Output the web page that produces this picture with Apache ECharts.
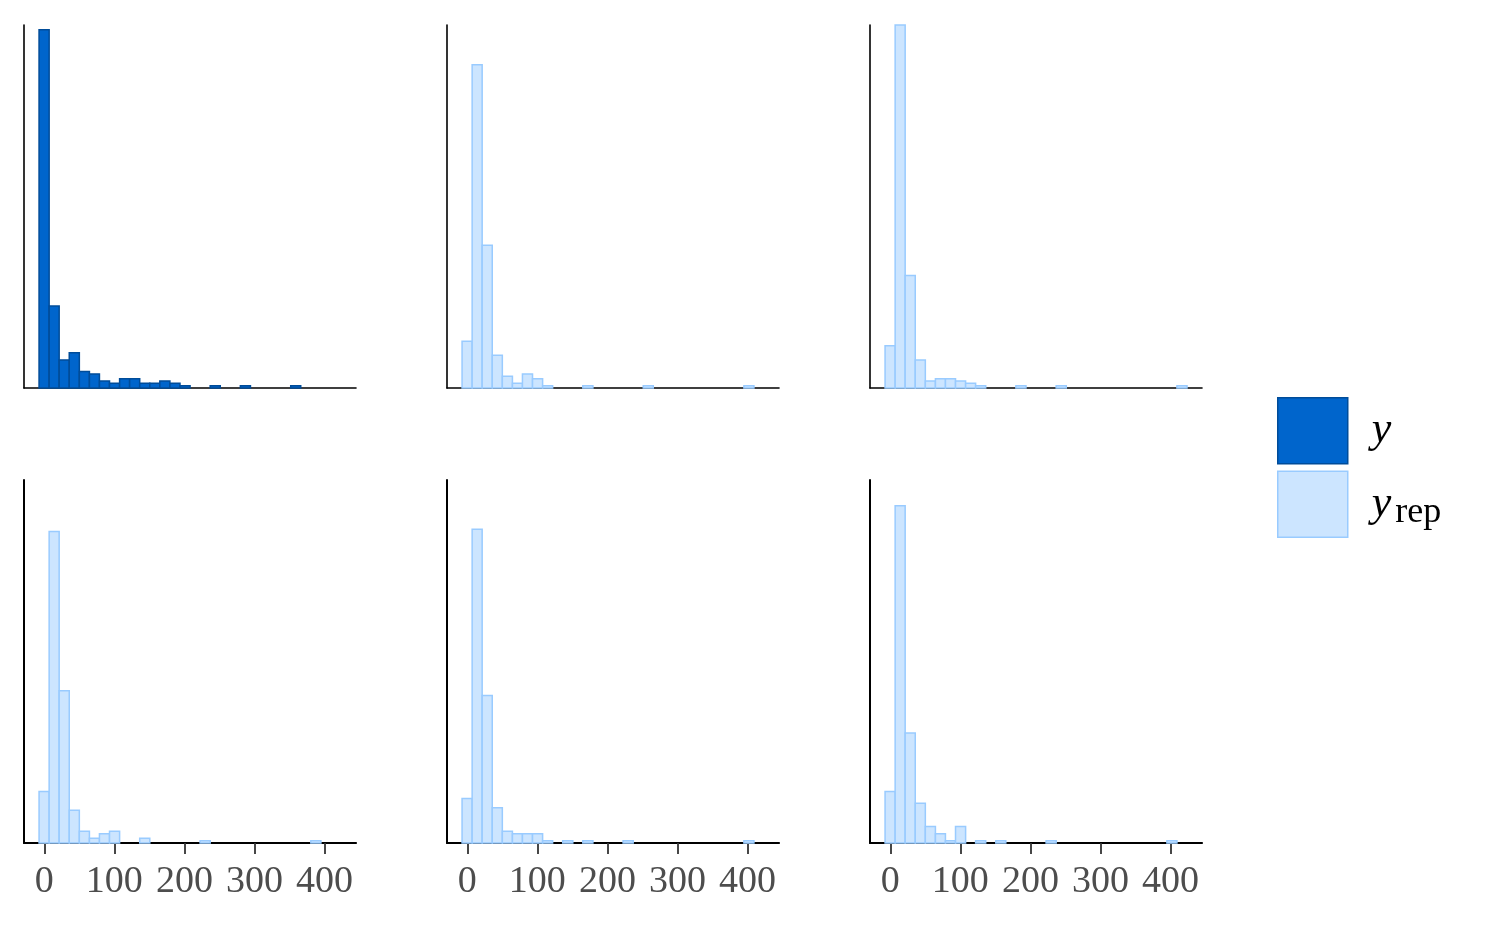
<!DOCTYPE html>
<html>
<head>
<meta charset="utf-8">
<script src="https://cdn.jsdelivr.net/npm/echarts@6/dist/echarts.min.js"></script>
<style>
  html, body { margin: 0; padding: 0; background: #fff; }
  #main { width: 1500px; height: 927px; }
</style>
</head>
<body>
<div id="main"></div>
<script>
// histogram bin edges (30 bins)
const binEdges = [-7.5, 6.9, 21.2, 35.6, 50.0, 64.4, 78.7, 93.1, 107.5, 121.8, 136.2,
  150.6, 164.9, 179.3, 193.7, 208.1, 222.4, 236.8, 251.2, 265.5, 279.9,
  294.3, 308.6, 323.0, 337.4, 351.8, 366.1, 380.5, 394.9, 409.2, 423.6];

// counts per bin: observed y, then 5 replicated draws
const countsY    = [153, 35, 12, 15, 7, 6, 3, 2, 4, 4, 2, 2, 3, 2, 1, 0, 0, 1, 0, 0, 1, 0, 0, 0, 0, 1, 0, 0, 0, 0];
const countsRep1 = [20, 138, 61, 14, 5, 2, 6, 4, 1, 0, 0, 0, 1, 0, 0, 0, 0, 0, 1, 0, 0, 0, 0, 0, 0, 0, 0, 0, 1, 0];
const countsRep2 = [18, 155, 48, 12, 3, 4, 4, 3, 2, 1, 0, 0, 0, 1, 0, 0, 0, 1, 0, 0, 0, 0, 0, 0, 0, 0, 0, 0, 0, 1];
const countsRep3 = [22, 133, 65, 14, 5, 2, 4, 5, 0, 0, 2, 0, 0, 0, 0, 0, 1, 0, 0, 0, 0, 0, 0, 0, 0, 0, 0, 1, 0, 0];
const countsRep4 = [19, 134, 63, 15, 5, 4, 4, 4, 1, 0, 1, 0, 1, 0, 0, 0, 1, 0, 0, 0, 0, 0, 0, 0, 0, 0, 0, 0, 1, 0];
const countsRep5 = [22, 144, 47, 17, 7, 4, 1, 7, 0, 1, 0, 1, 0, 0, 0, 0, 1, 0, 0, 0, 0, 0, 0, 0, 0, 0, 0, 0, 1, 0];

const xTicks = [0, 100, 200, 300, 400];
const xMin = -29, xMax = 445;
const yMax = 155;

const panels = [countsY, countsRep1, countsRep2, countsRep3, countsRep4, countsRep5];

const colY   = { fill: '#0065cc', stroke: '#004c99' };
const colRep = { fill: '#cce5ff', stroke: '#99cbff' };

const FONT = '"Liberation Serif", "DejaVu Serif", serif';

let myChart = echarts.init(document.getElementById('main'));

const colLeft = [24, 447, 870];
const rowTop = [25, 480];
const panelW = 332, panelH = 363;

let grid = [], xAxis = [], yAxis = [], series = [];

panels.forEach(function (counts, i) {
  const r = Math.floor(i / 3), c = i % 3;
  const bottomRow = r === 1;
  grid.push({ left: colLeft[c], top: rowTop[r], width: panelW, height: panelH });
  xAxis.push({
    gridIndex: i, type: 'value', min: xMin, max: xMax,
    axisLine: { show: true, onZero: false, lineStyle: { color: '#000', width: bottomRow ? 2.2 : 1.6 } },
    axisTick: { show: bottomRow, customValues: xTicks, length: 11, lineStyle: { color: '#333', width: 1.8 } },
    axisLabel: { show: bottomRow, customValues: xTicks, margin: 20, color: '#4d4d4d',
      fontFamily: FONT, fontSize: 38 },
    splitLine: { show: false }
  });
  yAxis.push({
    gridIndex: i, type: 'value', min: 0, max: yMax,
    axisLine: { show: true, onZero: false, lineStyle: { color: '#000', width: bottomRow ? 2 : 1.6 } },
    axisTick: { show: false }, axisLabel: { show: false }, splitLine: { show: false }
  });

  const col = i === 0 ? colY : colRep;
  let data = [];
  counts.forEach(function (n, k) {
    if (n > 0) data.push([binEdges[k], binEdges[k + 1], n]);
  });
  series.push({
    name: i === 0 ? 'y' : 'yrep',
    type: 'custom',
    xAxisIndex: i, yAxisIndex: i,
    data: data,
    itemStyle: { color: col.fill, borderColor: col.stroke },
    renderItem: function (params, api) {
      const p0 = api.coord([api.value(0), api.value(2)]);
      const p1 = api.coord([api.value(1), 0]);
      return {
        type: 'rect',
        shape: { x: p0[0], y: p0[1], width: p1[0] - p0[0], height: p1[1] - p0[1] },
        style: { fill: col.fill, stroke: col.stroke, lineWidth: 1.5 }
      };
    }
  });
});

let option = {
  animation: false,
  grid: grid,
  xAxis: xAxis,
  yAxis: yAxis,
  legend: {
    left: 1277, top: 397,
    padding: 0,
    orient: 'vertical',
    itemWidth: 70, itemHeight: 66, itemGap: 6,
    selectedMode: false,
    data: [
      { name: 'y', icon: 'rect', itemStyle: { color: colY.fill, borderColor: colY.stroke, borderWidth: 1.5 } },
      { name: 'yrep', icon: 'rect', itemStyle: { color: colRep.fill, borderColor: colRep.stroke, borderWidth: 1.5 } }
    ],
    formatter: function (name) {
      return name === 'y' ? '{i|y}' : '{i|y}{s|rep}';
    },
    textStyle: {
      rich: {
        i: { fontFamily: FONT, fontStyle: 'italic', fontSize: 44, lineHeight: 64, color: '#000', padding: [0, 0, 0, 19] },
        s: { fontFamily: FONT, fontSize: 36, color: '#000', verticalAlign: 'top', padding: [22, 0, 0, 4] }
      }
    }
  },
  series: series
};

myChart.setOption(option);
</script>
</body>
</html>
